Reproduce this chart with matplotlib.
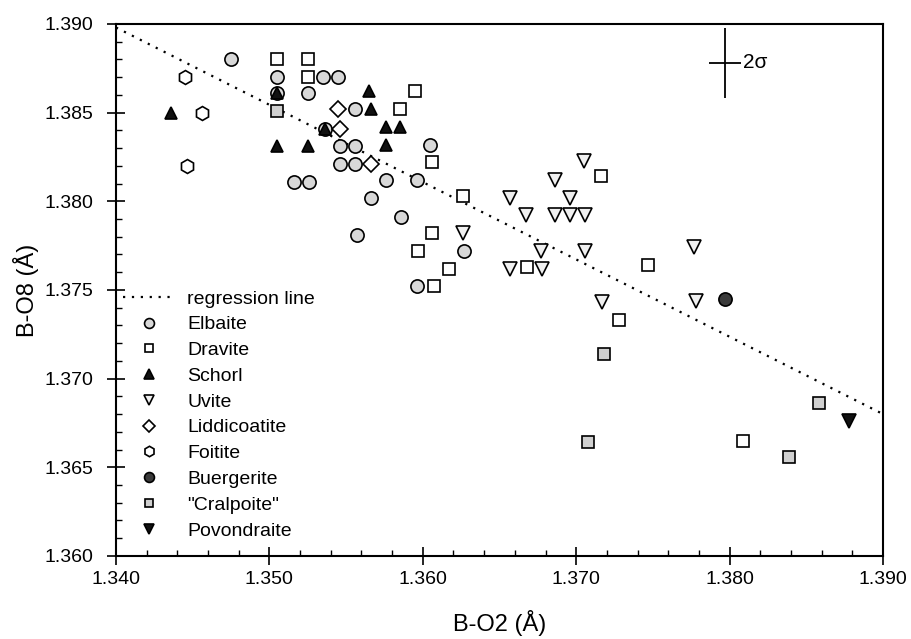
import matplotlib
matplotlib.use("Agg")
import matplotlib.pyplot as plt
from matplotlib.ticker import MultipleLocator, FormatStrFormatter

plt.rcParams['font.family'] = ['Liberation Sans', 'DejaVu Sans']

# ---- data (B-O2, B-O8 in Angstrom) ----
elbaite_x = [1.3475, 1.3505, 1.3535, 1.3545, 1.3525, 1.3505, 1.3556, 1.3536, 1.3546, 1.3556,
             1.3605, 1.3546, 1.3556, 1.3516, 1.3526, 1.3576, 1.3596, 1.3566, 1.3586, 1.3557,
             1.3627, 1.3596]
elbaite_y = [1.3880, 1.3870, 1.3870, 1.3870, 1.3861, 1.3861, 1.3852, 1.3841, 1.3831, 1.3831,
             1.3832, 1.3821, 1.3821, 1.3811, 1.3811, 1.3812, 1.3812, 1.3802, 1.3791, 1.3781,
             1.3772, 1.3752]

dravite_x = [1.3505, 1.3525, 1.3525, 1.3595, 1.3585, 1.3606, 1.3626, 1.3606, 1.3597, 1.3617,
             1.3607, 1.3668, 1.3716, 1.3747, 1.3728, 1.3809]
dravite_y = [1.3880, 1.3880, 1.3870, 1.3862, 1.3852, 1.3822, 1.3803, 1.3782, 1.3772, 1.3762,
             1.3752, 1.3763, 1.3814, 1.3764, 1.3733, 1.3665]

schorl_x = [1.3436, 1.3505, 1.3525, 1.3565, 1.3566, 1.3576, 1.3585, 1.3576, 1.3505, 1.3536]
schorl_y = [1.3850, 1.3831, 1.3831, 1.3862, 1.3852, 1.3842, 1.3842, 1.3832, 1.3861, 1.3841]

uvite_x = [1.3626, 1.3657, 1.3667, 1.3686, 1.3705, 1.3696, 1.3686, 1.3696, 1.3706, 1.3677,
           1.3706, 1.3657, 1.3678, 1.3777, 1.3717, 1.3778]
uvite_y = [1.3782, 1.3802, 1.3792, 1.3812, 1.3823, 1.3802, 1.3792, 1.3792, 1.3792, 1.3772,
           1.3772, 1.3762, 1.3762, 1.3774, 1.3743, 1.3744]

liddicoatite_x = [1.3545, 1.3546, 1.3566]
liddicoatite_y = [1.3852, 1.3841, 1.3821]

foitite_x = [1.3445, 1.3456, 1.3446]
foitite_y = [1.3870, 1.3850, 1.3820]

buergerite_x = [1.3797]
buergerite_y = [1.3745]

cralpoite_x = [1.3505, 1.3718, 1.3708, 1.3858, 1.3839]
cralpoite_y = [1.3851, 1.3714, 1.3664, 1.3686, 1.3656]

povondraite_x = [1.3878]
povondraite_y = [1.3676]

regression_x = [1.340, 1.390]
regression_y = [1.3898, 1.3680]

sigma_x, sigma_y = 1.3797, 1.3878
sigma_xerr, sigma_yerr = 0.00105, 0.0020

xticks = [1.340, 1.350, 1.360, 1.370, 1.380, 1.390]
yticks = [1.360, 1.365, 1.370, 1.375, 1.380, 1.385, 1.390]

# ---- figure ----
fig = plt.figure(figsize=(9.12, 6.39), dpi=100)
ax = fig.add_axes([0.1272, 0.130, 0.8410, 0.8325])

ax.plot(regression_x, regression_y, linestyle=(0, (1, 3)), color='black', linewidth=1.6,
        label='regression line', zorder=1)

mew = 1.2
styles = [
    ('Elbaite', elbaite_x, elbaite_y, dict(marker='o', ms=9.5, mfc='#d8d8d8', mec='black')),
    ('Dravite', dravite_x, dravite_y, dict(marker='s', ms=8.5, mfc='white', mec='black')),
    ('Schorl', schorl_x, schorl_y, dict(marker='^', ms=9, mfc='#111111', mec='black')),
    ('Uvite', uvite_x, uvite_y, dict(marker='v', ms=9.5, mfc='#f0f0f0', mec='black')),
    ('Liddicoatite', liddicoatite_x, liddicoatite_y, dict(marker='D', ms=8, mfc='white', mec='black')),
    ('Foitite', foitite_x, foitite_y, dict(marker='h', ms=10, mfc='white', mec='black')),
    ('Buergerite', buergerite_x, buergerite_y, dict(marker='o', ms=9.5, mfc='#3a3a3a', mec='black')),
    ('"Cralpoite"', cralpoite_x, cralpoite_y, dict(marker='s', ms=8.5, mfc='#d0d0d0', mec='black')),
    ('Povondraite', povondraite_x, povondraite_y, dict(marker='v', ms=10, mfc='#111111', mec='black')),
]
for lab, xs, ys, st in styles:
    ax.plot(xs, ys, linestyle='none', mew=mew, label=lab, zorder=3, **st)

# 2 sigma error cross
ax.errorbar([sigma_x], [sigma_y], xerr=[sigma_xerr], yerr=[sigma_yerr], fmt='none',
            ecolor='black', elinewidth=1.3, capsize=0)
ax.text(sigma_x + sigma_xerr + 0.0001, sigma_y, '2σ', fontsize=15, va='center', ha='left')

ax.set_xlim(1.340, 1.390)
ax.set_ylim(1.360, 1.390)
ax.set_xticks(xticks)
ax.set_yticks(yticks)
ax.xaxis.set_major_formatter(FormatStrFormatter('%.3f'))
ax.yaxis.set_major_formatter(FormatStrFormatter('%.3f'))
ax.xaxis.set_minor_locator(MultipleLocator(0.002))
ax.yaxis.set_minor_locator(MultipleLocator(0.001))
ax.tick_params(axis='x', which='major', direction='inout', length=13, width=1.2,
               labelsize=14, pad=4)
ax.tick_params(axis='y', which='major', direction='inout', length=13, width=1.2,
               labelsize=14, pad=10)
ax.tick_params(which='minor', direction='in', length=4, width=1.0)
for sp in ax.spines.values():
    sp.set_linewidth(1.5)

ax.set_xlabel('B-O2 (Å)', fontsize=17, labelpad=16)
ax.set_ylabel('B-O8 (Å)', fontsize=17, labelpad=4)

handles, labels = ax.get_legend_handles_labels()
leg = ax.legend(handles, labels, loc='upper left', bbox_to_anchor=(0.009, 0.500),
                frameon=False, fontsize=14, handlelength=2.7, handletextpad=0.6,
                labelspacing=0.42, markerscale=0.75, borderpad=0.0, borderaxespad=0.0)

fig.savefig('out.png', dpi=100)
